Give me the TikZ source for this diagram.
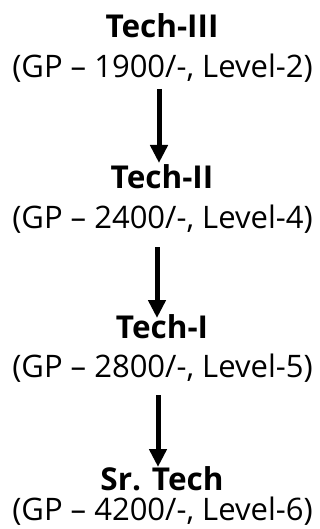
\documentclass[tikz,border=0pt]{standalone}
\usepackage{fontspec}
\setmainfont{Open Sans}
\usetikzlibrary{arrows.meta}
\begin{document}
\begin{tikzpicture}[x=1pt,y=-1pt,
  title/.style={anchor=base,inner sep=0pt,font=\fontsize{31.5}{33}\selectfont\bfseries},
  info/.style={anchor=base,inner sep=0pt,font=\fontsize{31}{33}\selectfont},
  down/.style={line width=5pt,-{Triangle[width=17pt,length=18pt]}}]
\useasboundingbox (0,0) rectangle (320,529);
\node[title] (t1) at (162,38) {Tech-III};
\node[info]  (p1) at (162.5,78) {(GP – 1900/-, Level-2)};
\node[title] (t2) at (162,189) {Tech-II};
\node[info]  (p2) at (162.5,228) {(GP – 2400/-, Level-4)};
\node[title] (t3) at (162,338) {Tech-I};
\node[info]  (p3) at (162.5,377) {(GP – 2800/-, Level-5)};
\node[title] (t4) at (162,490) {Sr. Tech};
\node[info]  (p4) at (162.5,520) {(GP – 4200/-, Level-6)};
\coordinate (a1s) at (159,89);  \coordinate (a1e) at (159,163);
\coordinate (a2s) at (157,247); \coordinate (a2e) at (157,318);
\coordinate (a3s) at (158,395); \coordinate (a3e) at (158,467);
\draw[down] (a1s) -- (a1e);
\draw[down] (a2s) -- (a2e);
\draw[down] (a3s) -- (a3e);
\end{tikzpicture}
\end{document}
